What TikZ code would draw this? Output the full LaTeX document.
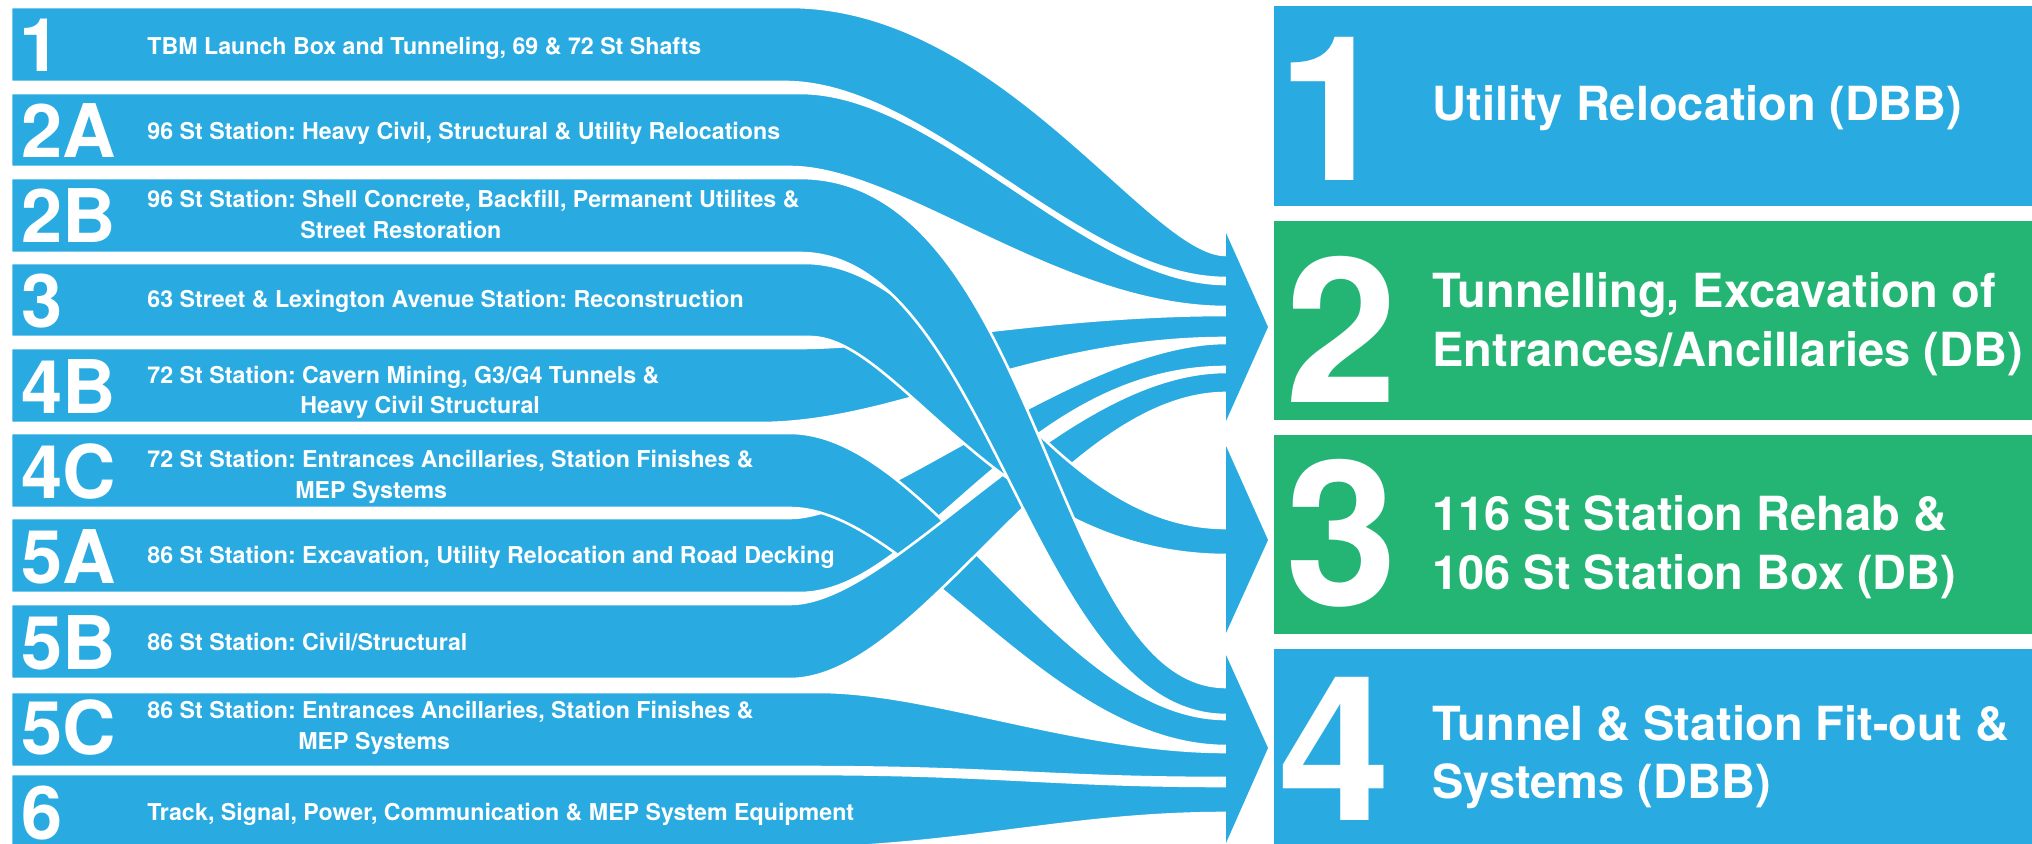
\documentclass[tikz,border=0pt]{standalone}
\usepackage{fontspec}
\setmainfont{TeX Gyre Heros}
\frenchspacing
\definecolor{sky}{HTML}{29ABE2}
\definecolor{leaf}{HTML}{24B574}
\begin{document}
\begin{tikzpicture}[x=0.5pt,y=-0.5pt,
  band/.style={fill=sky,draw=white,line width=1.3pt,line join=round},
  head/.style={fill=sky},
  lnum/.style={anchor=base west,inner sep=0pt,text=white,font=\bfseries\fontsize{37}{37}\selectfont},
  ltxt/.style={anchor=base west,inner sep=0pt,text=white,font=\bfseries\fontsize{11.6}{12}\selectfont},
  rnum/.style={anchor=base west,inner sep=0pt,text=white,font=\bfseries\fontsize{101}{101}\selectfont},
  rtxt/.style={anchor=base west,inner sep=0pt,text=white,font=\bfseries\fontsize{23.5}{24}\selectfont}]
\useasboundingbox (0,0) rectangle (2032,844);
% bands, bottom layer first
% 6
\path[band] (11,774) -- (800,774) .. controls (1000,774) and (1050,786) .. (1226,786) -- (1234,786) -- (1234,813) -- (1226,813) .. controls (1060,813) and (960,849) .. (760,849) -- (11,849) -- cycle;
% 5C
\path[band] (11,692) -- (820,692) .. controls (930,692) and (1080,752) .. (1226,752) -- (1234,752) -- (1234,778) -- (1226,778) .. controls (1050,778) and (1000,767) .. (800,767) -- (11,767) -- cycle;
% 5A
\path[band] (11,518) -- (790,518) .. controls (880,518) and (1080,343) .. (1226,343) -- (1234,343) -- (1234,367) -- (1226,367) .. controls (1020,367) and (920,593) .. (800,593) -- (11,593) -- cycle;
% 4C
\path[band] (11,433) -- (790,433) .. controls (930,433) and (1060,719) .. (1226,719) -- (1234,719) -- (1234,746) -- (1226,746) .. controls (1050,746) and (910,508) .. (790,508) -- (11,508) -- cycle;
% 5B
\path[band] (11,604) -- (790,604) .. controls (895,604) and (1060,372) .. (1226,372) -- (1234,372) -- (1234,393) -- (1226,393) .. controls (1060,393) and (921,679) .. (790,679) -- (11,679) -- cycle;
% 4B
\path[band] (11,348) -- (800,348) .. controls (900,348) and (1050,315) .. (1226,315) -- (1234,315) -- (1234,338) -- (1226,338) .. controls (1030,338) and (900,423) .. (760,423) -- (11,423) -- cycle;
% 3
\path[band] (11,263) -- (805,263) .. controls (950,263) and (1040,528) .. (1226,528) -- (1234,528) -- (1234,555) -- (1226,555) .. controls (1000,555) and (900,337) .. (810,337) -- (11,337) -- cycle;
% 2B
\path[band] (11,178) -- (800,178) .. controls (1040,178) and (1050,687) .. (1226,687) -- (1234,687) -- (1234,715) -- (1226,715) .. controls (1030,715) and (990,253) .. (800,253) -- (11,253) -- cycle;
% 2A
\path[band] (11,93) -- (800,93) .. controls (940,93) and (1085,284) .. (1226,284) -- (1234,284) -- (1234,307) -- (1226,307) .. controls (1060,307) and (900,167) .. (790,167) -- (11,167) -- cycle;
% 1
\path[band] (11,7) -- (790,7) .. controls (1000,7) and (1150,255) .. (1226,255) -- (1234,255) -- (1234,278) -- (1226,278) .. controls (1080,278) and (930,82) .. (785,82) -- (11,82) -- cycle;
% arrow heads
\path[head] (1226,233) -- (1268,327) -- (1226,421) -- cycle;
\path[head] (1226,446) -- (1268,540) -- (1226,633) -- cycle;
\path[head] (1226,655) -- (1268,748) -- (1226,843) -- cycle;
% boxes
\fill[sky] (1274,6) rectangle (2040,206);
\fill[leaf] (1274,221) rectangle (2040,420);
\fill[leaf] (1274,435) rectangle (2040,634);
\fill[sky] (1274,649) rectangle (2040,860);
% left numbers
\node[lnum] (n1) at (19,72) {1};
\node[lnum] (n2a) at (21,158) {2A};
\node[lnum] (n2b) at (21,243) {2B};
\node[lnum] (n3) at (21,328) {3};
\node[lnum] (n4b) at (21,413) {4B};
\node[lnum] (n4c) at (21,498) {4C};
\node[lnum] (n5a) at (21,583) {5A};
\node[lnum] (n5b) at (21,669) {5B};
\node[lnum] (n5c) at (21,754) {5C};
\node[lnum] (n6) at (21,839) {6};
% left labels
\node[ltxt] (t1) at (147,55) {TBM Launch Box and Tunneling, 69 \& 72 St Shafts};
\node[ltxt] (t2a) at (147,140) {96 St Station: Heavy Civil, Structural \& Utility Relocations};
\node[ltxt] (t2b) at (147,208) {96 St Station: Shell Concrete, Backfill, Permanent Utilites \&};
\node[ltxt] (t2bb) at (300,239) {Street Restoration};
\node[ltxt] (t3) at (147,307) {63 Street \& Lexington Avenue Station: Reconstruction};
\node[ltxt] (t4b) at (147,383) {72 St Station: Cavern Mining, G3/G4 Tunnels \&};
\node[ltxt] (t4bb) at (300,413) {Heavy Civil Structural};
\node[ltxt] (t4c) at (147,467) {72 St Station: Entrances Ancillaries, Station Finishes \&};
\node[ltxt] (t4cc) at (295,498) {MEP Systems};
\node[ltxt] (t5a) at (147,563) {86 St Station: Excavation, Utility Relocation and Road Decking};
\node[ltxt] (t5b) at (147,650) {86 St Station: Civil/Structural};
\node[ltxt] (t5c) at (147,718) {86 St Station: Entrances Ancillaries, Station Finishes \&};
\node[ltxt] (t5cc) at (298,749) {MEP Systems};
\node[ltxt] (t6) at (147,820) {Track, Signal, Power, Communication \& MEP System Equipment};
% right side
\node[rnum] (b1n) at (1277,181) {1};
\node[rnum] (b2n) at (1285,402) {2};
\node[rnum] (b3n) at (1285,605) {3};
\node[rnum] (b4n) at (1278,820) {4};
\node[rtxt] (b1t) at (1432,121) {Utility Relocation (DBB)};
\node[rtxt] (b2t) at (1432,308) {Tunnelling, Excavation of};
\node[rtxt] (b2u) at (1432,366) {Entrances/Ancillaries (DB)};
\node[rtxt] (b3t) at (1432,530) {116 St Station Rehab \&};
\node[rtxt] (b3u) at (1432,589) {106 St Station Box (DB)};
\node[rtxt] (b4t) at (1432,740) {Tunnel \& Station Fit-out \&};
\node[rtxt] (b4u) at (1432,798) {Systems (DBB)};
\end{tikzpicture}
\end{document}
